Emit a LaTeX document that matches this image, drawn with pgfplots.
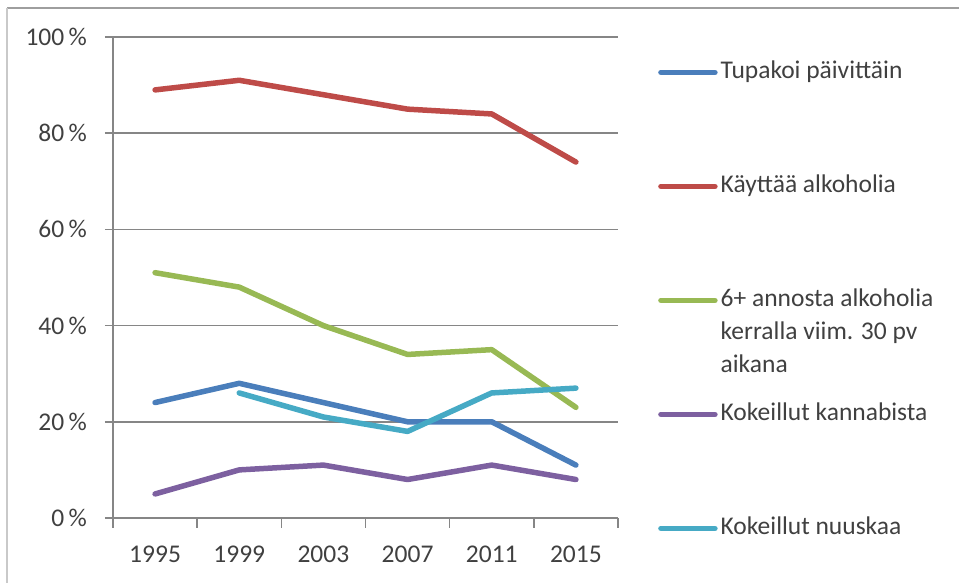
\documentclass[border=0pt]{standalone}
\usepackage{fontspec}
\setmainfont{Carlito}
\usepackage{pgfplots}
\pgfplotsset{compat=1.18}
\definecolor{cBlue}{HTML}{4A7EBB}
\definecolor{cRed}{HTML}{BE4B48}
\definecolor{cGreen}{HTML}{98B954}
\definecolor{cPurple}{HTML}{7D60A0}
\definecolor{cCyan}{HTML}{46AAC5}
\definecolor{cGrid}{HTML}{868686}
\definecolor{cText}{HTML}{404040}
\newcommand\LE[1]{\raisebox{-8pt}[0pt][0pt]{#1}}
\begin{document}
\fontsize{25.5}{33}\selectfont
\begin{tikzpicture}[x=1pt,y=1pt]
\path[use as bounding box] (0,0) rectangle (959,583);
\draw[color=cGrid!80, line width=2pt] (7,575) -- (959,575);
\draw[color=cGrid!45, line width=1.5pt] (7,575) -- (7,0);
\begin{axis}[
  at={(113pt,65pt)}, anchor=south west,
  scale only axis, width=505pt, height=481pt,
  xmin=-0.5, xmax=5.5, ymin=0, ymax=100,
  xtick={0,...,5}, xticklabels={1995,1999,2003,2007,2011,2015},
  minor xtick={-0.5,0.5,...,5.5},
  ytick={0,20,...,100},
  yticklabel={\pgfmathprintnumber{\tick}\,\%},
  /pgf/number format/assume math mode=true,
  axis x line*=bottom, axis y line*=left,
  axis line style={-, color=cGrid, line width=1.5pt},
  every outer x axis line/.append style={-},
  every outer y axis line/.append style={-},
  tick align=outside,
  major tick length=8pt, minor tick length=10pt,
  major x tick style={draw=none},
  tick style={color=cGrid, line width=1.5pt},
  minor tick style={color=cGrid, line width=1.5pt},
  ymajorgrids, grid style={color=cGrid, line width=1.5pt},
  tick label style={font=\fontsize{25.5}{30}\selectfont, color=cText},
  yticklabel style={anchor=east, inner sep=0pt, xshift=-18pt},
  xticklabel style={anchor=north, inner sep=0pt, yshift=-20pt},
  clip=false,
  legend style={at={(1.0792,0.9324)}, anchor=north west, draw=none, fill=none,
    inner sep=0pt, row sep=108.5pt, column sep=3pt,
    nodes={inner sep=0pt},
    font=\fontsize{25.5}{33}\selectfont, text=cText},
  legend cell align=left,
  legend image code/.code={\draw[#1] (0pt,0pt) -- (54pt,0pt);},
  every axis plot/.append style={line width=5.5pt, line join=round, line cap=round},
]
\addplot[cBlue] coordinates {(0,24) (1,28) (2,24) (3,20) (4,20) (5,11)};
\addlegendentry{\LE{Tupakoi päivittäin}}
\addplot[cRed] coordinates {(0,89) (1,91) (2,88) (3,85) (4,84) (5,74)};
\addlegendentry{\LE{Käyttää alkoholia}}
\addplot[cGreen] coordinates {(0,51) (1,48) (2,40) (3,34) (4,35) (5,23)};
\addlegendentry{\LE{\begin{tabular}[t]{@{}l@{}}6+ annosta alkoholia\\kerralla viim. 30 pv\\aikana\end{tabular}}}
\addplot[cPurple] coordinates {(0,5) (1,10) (2,11) (3,8) (4,11) (5,8)};
\addlegendentry{\LE{Kokeillut kannabista}}
\addplot[cCyan] coordinates {(1,26) (2,21) (3,18) (4,26) (5,27)};
\addlegendentry{\LE{Kokeillut nuuskaa}}
\end{axis}
\end{tikzpicture}
\end{document}
